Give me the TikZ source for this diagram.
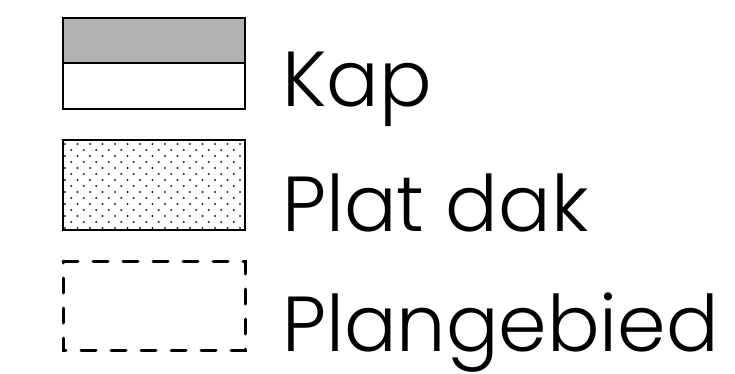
\documentclass[tikz,border=0pt]{standalone}
\usepackage{fontspec}
\setmainfont{Poppins}[UprightFont={* Light}]
\definecolor{kapgray}{RGB}{178,178,178}
\definecolor{dotgray}{RGB}{40,40,40}
\tikzset{
  legbox/.style={draw=black, line width=2pt},
  legtext/.style={anchor=base west, inner sep=0pt, font=\fontsize{78}{78}\selectfont},
  plangrens/.style={draw=black, line width=3pt, line cap=round, dash pattern=on 15pt off 15pt}
}
\begin{document}
\begin{tikzpicture}[x=1pt,y=-1pt]
\useasboundingbox (0,0) rectangle (735,374);
% Kap
\fill[kapgray] (63,18) rectangle (245,63);
\draw[legbox] (63,18) rectangle (245,109);
\draw[legbox] (63,63) -- (245,63);
% Plat dak
\begin{scope}
\clip (63,140) rectangle (245,230);
\foreach \j in {0,...,15}{
  \foreach \i in {0,...,15}{
    \fill[dotgray] ({65+12.5*\i+6.25*mod(\j,2)},{144+6*\j}) circle (1.05pt);
  }
}
\end{scope}
\draw[legbox] (63,140) rectangle (245,230);
% Plangebied
\draw[plangrens] (63,261) -- (245,261) -- (245,350) -- (63,350) -- cycle;
% texts
\node[legtext] (kap) at (282,107) {Kap};
\node[legtext] (plat) at (282,231) {Plat dak};
\node[legtext] (plan) at (282,351) {Plangebied};
\end{tikzpicture}
\end{document}
